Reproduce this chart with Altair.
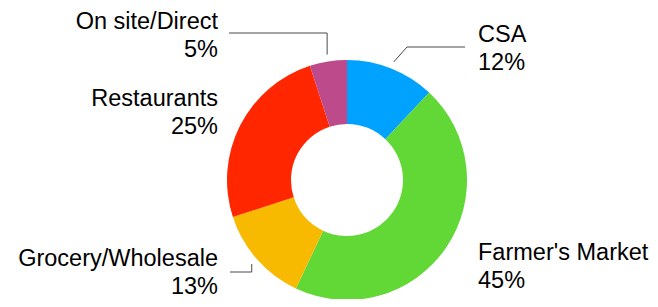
import math
import altair as alt
import pandas as pd

# ---- data ----
categories = ["CSA", "Farmer's Market", "Grocery/Wholesale", "Restaurants", "On site/Direct"]
values = [12, 45, 13, 25, 5]
colors = ["#00A2FF", "#61D836", "#F8BA00", "#FF2600", "#BD4A8B"]

# ---- layout (plot-area pixels) ----
W, H = 642, 291
CX, CY = 339, 172
R_OUT, R_IN = 120, 56
label_side = ["right", "right", "left", "left", "left"]
label_baseline = [34, 252, 258, 98, 21]
LEFT_X, RIGHT_X = 210, 470
# leader lines: list of extra points after the start point on the slice edge
leader_via = {
    "CSA": [(399, 39), (457, 39)],
    "Grocery/Wholesale": [(None, 264), (222, 264)],
    "On site/Direct": [(None, 25), (221, 25)],
}
LEADER_R = 127

df = pd.DataFrame({
    "category": categories,
    "value": values,
    "order": list(range(len(categories))),
    "label": [f"{c}\n{v}%" for c, v in zip(categories, values)],
    "side": label_side,
    "ly": label_baseline,
})
df["lx"] = [RIGHT_X if s == "right" else LEFT_X for s in label_side]

total = sum(values)
rows = []
cum = 0
for c, v in zip(categories, values):
    mid = (cum + v / 2) / total * 2 * math.pi
    cum += v
    if c in leader_via:
        sx = CX + LEADER_R * math.sin(mid)
        sy = CY - LEADER_R * math.cos(mid)
        pts = [(sx, sy)]
        for px, py in leader_via[c]:
            pts.append((sx if px is None else px, py))
        for i, (px, py) in enumerate(pts):
            rows.append({"category": c, "i": i, "px": px, "py": py})
lines_df = pd.DataFrame(rows)

color_scale = alt.Scale(domain=categories, range=colors)

arcs = alt.Chart(df).mark_arc(outerRadius=R_OUT, innerRadius=R_IN).encode(
    theta=alt.Theta("value:Q", stack=True),
    order=alt.Order("order:Q"),
    color=alt.Color("category:N", scale=color_scale, legend=None),
    x=alt.value(CX),
    y=alt.value(CY),
)

leaders = alt.Chart(lines_df).mark_line(color="#4a4a4a", strokeWidth=1).encode(
    x=alt.X("px:Q", scale=None),
    y=alt.Y("py:Q", scale=None),
    detail="category:N",
    order="i:Q",
)

text_common = dict(fontSize=23.5, font="Liberation Sans", lineHeight=28,
                   baseline="alphabetic", lineBreak="\n", color="black")

right_text = alt.Chart(df).transform_filter(alt.datum.side == "right").mark_text(
    align="left", **text_common
).encode(
    x=alt.X("lx:Q", scale=None),
    y=alt.Y("ly:Q", scale=None),
    text="label:N",
)

left_text = alt.Chart(df).transform_filter(alt.datum.side == "left").mark_text(
    align="right", **text_common
).encode(
    x=alt.X("lx:Q", scale=None),
    y=alt.Y("ly:Q", scale=None),
    text="label:N",
)

chart = alt.layer(arcs, leaders, right_text, left_text).properties(
    width=W, height=H,
    autosize=alt.AutoSizeParams(type="none"),
    padding=0,
).configure_view(stroke=None)

chart.save("out.html", embed_options={"renderer": "svg", "actions": False})
